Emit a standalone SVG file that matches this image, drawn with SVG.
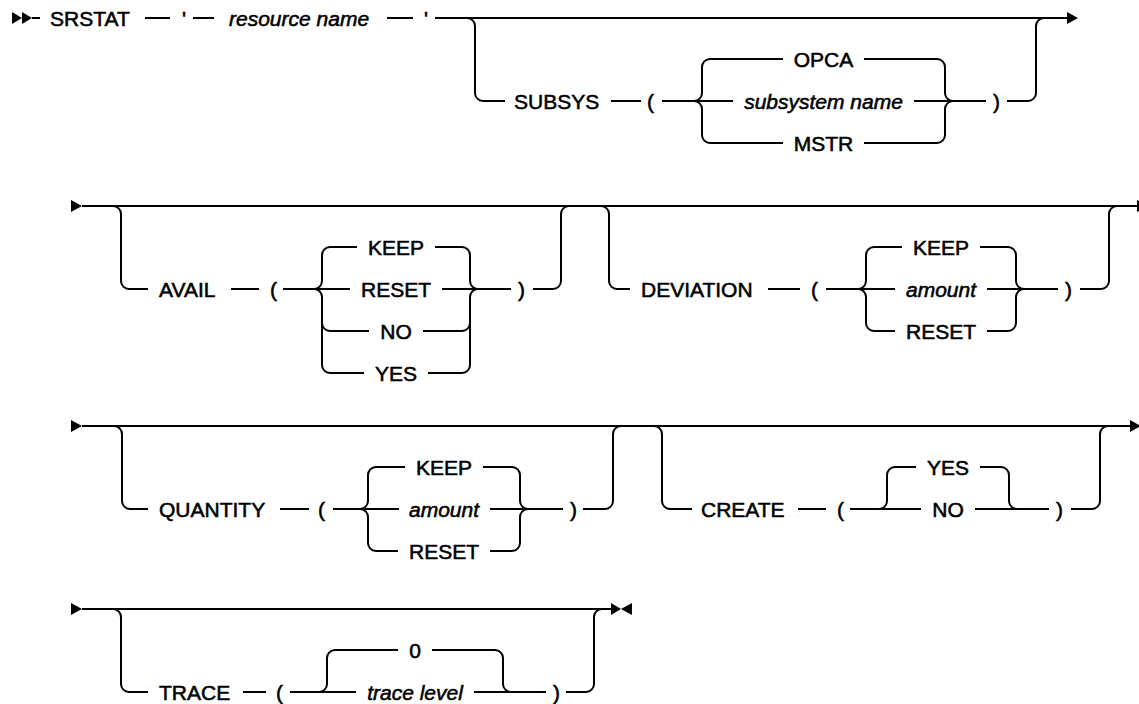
<svg xmlns="http://www.w3.org/2000/svg" width="1139" height="704" viewBox="0 0 1139 704">
<style>
.ln{fill:none;stroke:#000;stroke-width:2}
.ah{fill:#000;stroke:none}
.t{font-family:"Liberation Sans",Arial,sans-serif;font-size:21px;fill:#000;stroke:#000;stroke-width:0.55}
.i{font-style:italic}
.m{text-anchor:middle}
</style>
<rect width="1139" height="704" fill="#fff"/>
<g id="connectors">
<!-- row 1 -->
<polygon class="ah" points="12,12 22,18 12,24"/><polygon class="ah" points="22,12 32,18 22,24"/>
<path class="ln" d="M32 18H40M145 18H170M193 18H214M387 18H413M435 18H1067"/>
<path class="ln" d="M467 18a8 8 0 0 1 8 8V93a8 8 0 0 0 8 8H505M611 101H641M662 101H733"/>
<path class="ln" d="M694 101a8 8 0 0 0 8-8V67a8 8 0 0 1 8-8H783M694 101a8 8 0 0 1 8 8V135a8 8 0 0 0 8 8H783"/>
<path class="ln" d="M864 59H937a8 8 0 0 1 8 8V93a8 8 0 0 0 8 8M864 143H937a8 8 0 0 0 8-8V109a8 8 0 0 1 8-8M914 101H986"/>
<path class="ln" d="M1007 101H1028a8 8 0 0 0 8-8V26a8 8 0 0 1 8-8"/>
<polygon class="ah" points="1067,12 1078,18 1067,24"/>
<!-- row 2 -->
<polygon class="ah" points="71,200 82,206 71,212"/>
<path class="ln" d="M82 206H1137"/>
<polygon class="ah" points="1137,200 1148,206 1137,212"/>
<path class="ln" d="M113 206a8 8 0 0 1 8 8V281a8 8 0 0 0 8 8H148M231 289H259M283 289H350"/>
<path class="ln" d="M314 289a8 8 0 0 0 8-8V255a8 8 0 0 1 8-8H357M314 289a8 8 0 0 1 8 8V365a8 8 0 0 0 8 8H364M322 323a8 8 0 0 0 8 8H369"/>
<path class="ln" d="M435 247H462a8 8 0 0 1 8 8V281a8 8 0 0 0 8 8M428 373H462a8 8 0 0 0 8-8V297a8 8 0 0 1 8-8M423 331H462a8 8 0 0 0 8-8M442 289H511"/>
<path class="ln" d="M533 289H553a8 8 0 0 0 8-8V214a8 8 0 0 1 8-8"/>
<path class="ln" d="M601 206a8 8 0 0 1 8 8V281a8 8 0 0 0 8 8H630M768 289H800M826 289H895"/>
<path class="ln" d="M858 289a8 8 0 0 0 8-8V255a8 8 0 0 1 8-8H902M858 289a8 8 0 0 1 8 8V323a8 8 0 0 0 8 8H895"/>
<path class="ln" d="M980 247H1008a8 8 0 0 1 8 8V281a8 8 0 0 0 8 8M987 331H1008a8 8 0 0 0 8-8V297a8 8 0 0 1 8-8M987 289H1058"/>
<path class="ln" d="M1080 289H1101a8 8 0 0 0 8-8V214a8 8 0 0 1 8-8"/>
<!-- row 3 -->
<polygon class="ah" points="71,420 82,426 71,432"/>
<path class="ln" d="M82 426H1130"/>
<polygon class="ah" points="1130,420 1141,426 1130,432"/>
<path class="ln" d="M114 426a8 8 0 0 1 8 8V501a8 8 0 0 0 8 8H148M280 509H309M333 509H399"/>
<path class="ln" d="M360 509a8 8 0 0 0 8-8V475a8 8 0 0 1 8-8H405M360 509a8 8 0 0 1 8 8V543a8 8 0 0 0 8 8H398"/>
<path class="ln" d="M483 467H512a8 8 0 0 1 8 8V501a8 8 0 0 0 8 8M490 551H512a8 8 0 0 0 8-8V517a8 8 0 0 1 8-8M490 509H563"/>
<path class="ln" d="M583 509H605a8 8 0 0 0 8-8V434a8 8 0 0 1 8-8"/>
<path class="ln" d="M654 426a8 8 0 0 1 8 8V501a8 8 0 0 0 8 8H692M798 509H826M850 509H921"/>
<path class="ln" d="M879 509a8 8 0 0 0 8-8V475a8 8 0 0 1 8-8H916M980 467H1001a8 8 0 0 1 8 8V501a8 8 0 0 0 8 8M975 509H1049"/>
<path class="ln" d="M1071 509H1092a8 8 0 0 0 8-8V434a8 8 0 0 1 8-8"/>
<!-- row 4 -->
<polygon class="ah" points="71,603 82,609 71,615"/>
<path class="ln" d="M82 609H611"/>
<polygon class="ah" points="611,603 621,609 611,615"/><polygon class="ah" points="632,603 621,609 632,615"/>
<path class="ln" d="M113 609a8 8 0 0 1 8 8V684a8 8 0 0 0 8 8H148M243 692H266M290 692H356"/>
<path class="ln" d="M319 692a8 8 0 0 0 8-8V658a8 8 0 0 1 8-8H398M432 650H495a8 8 0 0 1 8 8V684a8 8 0 0 0 8 8M474 692H546"/>
<path class="ln" d="M566 692H586a8 8 0 0 0 8-8V617a8 8 0 0 1 8-8"/>
</g>
<g id="n-srstat"><text class="t" x="50" y="25.5">SRSTAT</text></g>
<g id="n-q1"><text class="t" x="182" y="25.5">'</text></g>
<g id="n-resource"><text class="t i" x="229" y="25.5">resource name</text></g>
<g id="n-q2"><text class="t" x="424" y="25.5">'</text></g>
<g id="n-subsys"><text class="t" x="514" y="108.5">SUBSYS</text></g>
<g id="n-subsys-lp"><text class="t" x="647" y="108.5">(</text></g>
<g id="n-opca"><text class="t m" x="823.5" y="66.5">OPCA</text></g>
<g id="n-subsysname"><text class="t i m" x="823.5" y="108.5">subsystem name</text></g>
<g id="n-mstr"><text class="t m" x="823.5" y="150.5">MSTR</text></g>
<g id="n-subsys-rp"><text class="t" x="993" y="108.5">)</text></g>
<g id="n-avail"><text class="t" x="159" y="296.5">AVAIL</text></g>
<g id="n-avail-lp"><text class="t" x="270" y="296.5">(</text></g>
<g id="n-avail-keep"><text class="t m" x="396" y="254.5">KEEP</text></g>
<g id="n-avail-reset"><text class="t m" x="396" y="296.5">RESET</text></g>
<g id="n-avail-no"><text class="t m" x="396" y="338.5">NO</text></g>
<g id="n-avail-yes"><text class="t m" x="396" y="380.5">YES</text></g>
<g id="n-avail-rp"><text class="t" x="518" y="296.5">)</text></g>
<g id="n-deviation"><text class="t" x="641" y="296.5">DEVIATION</text></g>
<g id="n-dev-lp"><text class="t" x="811" y="296.5">(</text></g>
<g id="n-dev-keep"><text class="t m" x="941" y="254.5">KEEP</text></g>
<g id="n-dev-amount"><text class="t i m" x="941" y="296.5">amount</text></g>
<g id="n-dev-reset"><text class="t m" x="941" y="338.5">RESET</text></g>
<g id="n-dev-rp"><text class="t" x="1065" y="296.5">)</text></g>
<g id="n-quantity"><text class="t" x="159" y="516.5">QUANTITY</text></g>
<g id="n-qty-lp"><text class="t" x="318" y="516.5">(</text></g>
<g id="n-qty-keep"><text class="t m" x="444" y="474.5">KEEP</text></g>
<g id="n-qty-amount"><text class="t i m" x="444" y="516.5">amount</text></g>
<g id="n-qty-reset"><text class="t m" x="444" y="558.5">RESET</text></g>
<g id="n-qty-rp"><text class="t" x="570" y="516.5">)</text></g>
<g id="n-create"><text class="t" x="701" y="516.5">CREATE</text></g>
<g id="n-create-lp"><text class="t" x="837" y="516.5">(</text></g>
<g id="n-create-yes"><text class="t m" x="948" y="474.5">YES</text></g>
<g id="n-create-no"><text class="t m" x="948" y="516.5">NO</text></g>
<g id="n-create-rp"><text class="t" x="1056" y="516.5">)</text></g>
<g id="n-trace"><text class="t" x="159" y="699.5">TRACE</text></g>
<g id="n-trace-lp"><text class="t" x="276" y="699.5">(</text></g>
<g id="n-trace-0"><text class="t m" x="415" y="657.5">0</text></g>
<g id="n-trace-level"><text class="t i m" x="415" y="699.5">trace level</text></g>
<g id="n-trace-rp"><text class="t" x="553" y="699.5">)</text></g>
</svg>
